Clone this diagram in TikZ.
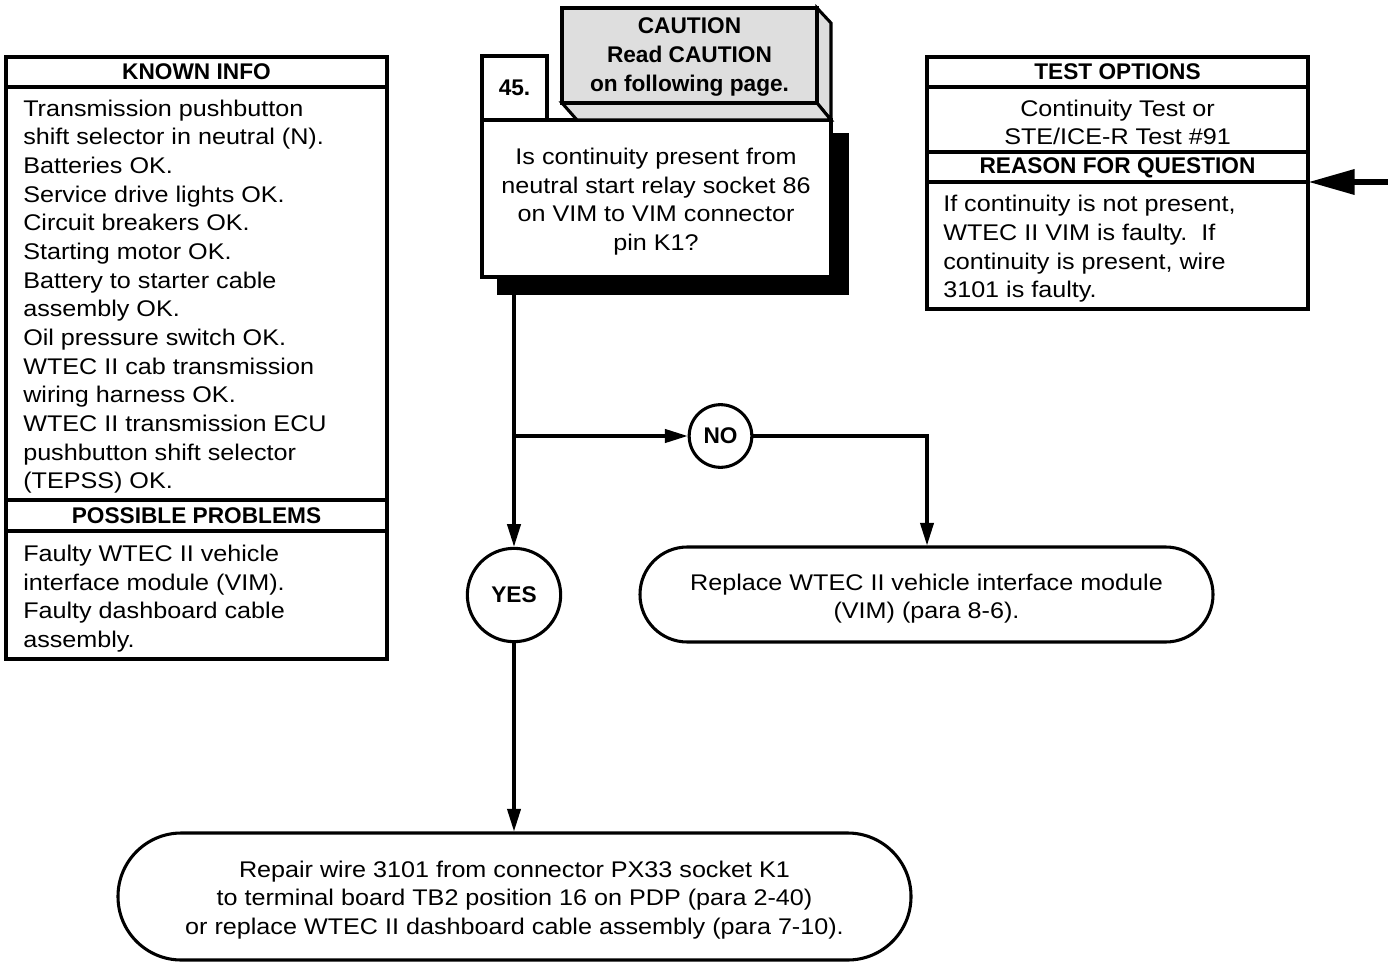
\documentclass[tikz,border=0pt]{standalone}
\usepackage{fontspec}
\setmainfont{Liberation Sans}
\newfontfamily\regf{Liberation Sans}[FakeStretch=1.11]
\usetikzlibrary{arrows.meta,fit}
\definecolor{cgray}{RGB}{222,222,222}
\begin{document}
\begin{tikzpicture}[x=0.75pt,y=-0.75pt,
  lw/.style={line width=2.3pt},
  txt/.style={font=\regf\fontsize{17}{21.5}\selectfont, inner sep=0pt},
  ttl/.style={font=\fontsize{17}{21.5}\selectfont\bfseries, inner sep=0pt},
  frame/.style={draw, lw, inner sep=0pt},
  flow/.style={lw, -{Triangle[length=17pt,width=10pt]}},
  bigarrow/.style={line width=5pt, -{Triangle[length=35pt,width=18pt]}},
  ring/.style={draw, lw, circle, inner sep=0pt, fill=white, font=\fontsize{17}{21.5}\selectfont\bfseries}
]
\useasboundingbox (0,0) rectangle (1388,963);

% KNOWN INFO
\node[frame, fit={(6,57) (387,659)}] (ki) {};
\draw[lw] (ki.west |- 0,87) -- (ki.east |- 0,87);
\draw[lw] (ki.west |- 0,500) -- (ki.east |- 0,500);
\draw[lw] (ki.west |- 0,531) -- (ki.east |- 0,531);
\node[ttl] (kit) at (196.5,72) {KNOWN INFO};
\node[txt, anchor=west, align=left] (kib) at (23,296.5) {Transmission pushbutton\\shift selector in neutral (N).\\Batteries OK.\\Service drive lights OK.\\Circuit breakers OK.\\Starting motor OK.\\Battery to starter cable\\assembly OK.\\Oil pressure switch OK.\\WTEC II cab transmission\\wiring harness OK.\\WTEC II transmission ECU\\pushbutton shift selector\\(TEPSS) OK.};
\node[ttl] (ppt) at (196.5,516) {POSSIBLE PROBLEMS};
\node[txt, anchor=west, align=left] (ppb) at (23,598.5) {Faulty WTEC II vehicle\\interface module (VIM).\\Faulty dashboard cable\\assembly.};

% TEST OPTIONS
\node[frame, fit={(927,57) (1308,309)}] (to) {};
\draw[lw] (to.west |- 0,87) -- (to.east |- 0,87);
\draw[lw] (to.west |- 0,152) -- (to.east |- 0,152);
\draw[lw] (to.west |- 0,182) -- (to.east |- 0,182);
\node[ttl] (tot) at (1117.5,72) {TEST OPTIONS};
\node[txt, align=center] (tob) at (1117.5,122.5) {Continuity Test or\\STE/ICE-R Test \#91};
\node[ttl] (rqt) at (1117.5,168) {REASON FOR QUESTION};
\node[txt, anchor=west, align=left] (rqb) at (943,249) {If continuity is not present,\\WTEC II VIM is faulty.\ \ If\\continuity is present, wire\\3101 is faulty.};
\coordinate (rin) at (1388,182);
\coordinate (tin) at (1308,182);
\draw[bigarrow] (rin) -- (tin);

% QUESTION 45
\node[fill=black, inner sep=0pt, fit={(497,133) (849,295)}] (qsh) {};
\node[frame, fill=white, fit={(482,120) (831,277)}] (q) {};
\node[txt, align=center] (qt) at (656,201.5) {Is continuity present from\\neutral start relay socket 86\\on VIM to VIM connector\\pin K1?};
\node[frame, fill=white, fit={(482,56) (547,120)}] (num) {};
\node[ttl] at (num.center) {45.};

% CAUTION 3D box
\coordinate (c1) at (562,8);
\coordinate (c2) at (817,8);
\coordinate (c3) at (817,103);
\coordinate (c4) at (562,103);
\coordinate (c5) at (831,23);
\coordinate (c6) at (831,120);
\coordinate (c7) at (577,120);
\filldraw[lw, fill=cgray, line join=miter] (c2) -- (c5) -- (c6) -- (c3) -- cycle;
\filldraw[lw, fill=cgray, line join=miter] (c4) -- (c3) -- (c6) -- (c7) -- cycle;
\node[frame, fill=cgray, fit={(c1) (c3)}] (cf) {};
\node[ttl, align=center] (ct) at (689.5,57) {CAUTION\\Read CAUTION\\on following page.};

% Decision circles
\node[ring, minimum size=47pt] (no) at (720.5,436) {NO};
\node[ring, minimum size=70pt] (yes) at (514,595) {YES};

% Result boxes
\node[draw, lw, inner sep=0pt, rounded corners=35.5pt, fit={(640,547) (1213,642)}] (rep) {};
\node[txt, align=center] (rept) at (926.5,598.5) {Replace WTEC II vehicle interface module\\(VIM) (para 8-6).};
\node[draw, lw, inner sep=0pt, rounded corners=47.5pt, fit={(118,833) (911,960)}] (fix) {};
\node[txt, align=center] (fixt) at (514.5,900) {Repair wire 3101 from connector PX33 socket K1\\to terminal board TB2 position 16 on PDP (para 2-40)\\or replace WTEC II dashboard cable assembly (para 7-10).};

% Connectors
\coordinate (qout) at (514,295);
\coordinate (split) at (514,436);
\coordinate (bend) at (927,436);
\draw[lw] (qout) -- (split);
\draw[flow] (split) -- (yes.north);
\draw[flow] (split) -- (no.west);
\draw[flow] (no.east) -- (bend) -- (bend |- rep.north);
\draw[flow] (yes.south) -- (yes.south |- fix.north);
\end{tikzpicture}
\end{document}
